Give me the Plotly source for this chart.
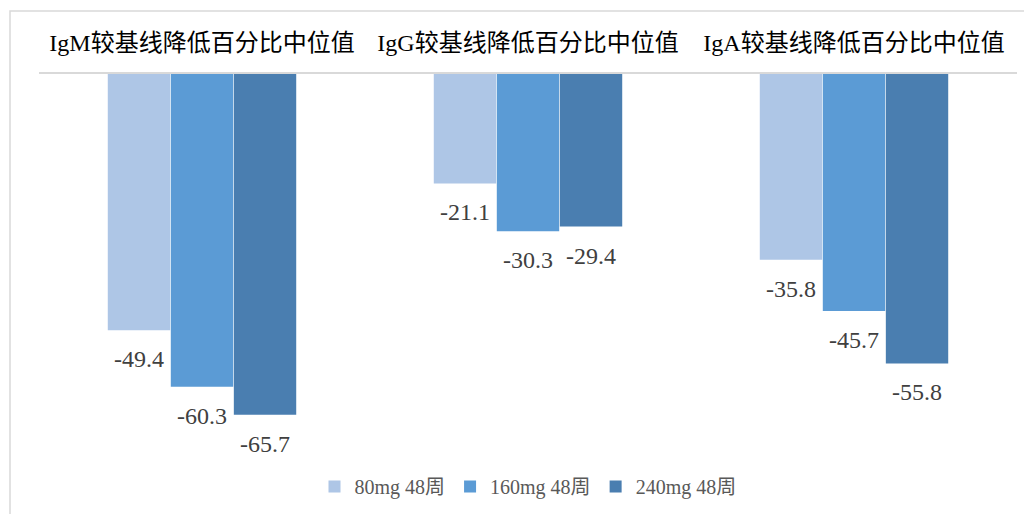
import plotly.graph_objects as go

categories = ["IgM较基线降低百分比中位值", "IgG较基线降低百分比中位值", "IgA较基线降低百分比中位值"]
series_names = ["80mg 48周", "160mg 48周", "240mg 48周"]
values_80 = [-49.4, -21.1, -35.8]
values_160 = [-60.3, -30.3, -45.7]
values_240 = [-65.7, -29.4, -55.8]
colors = ["#aec6e6", "#5b9bd5", "#4a7eb0"]

series_values = [values_80, values_160, values_240]

W, H = 1032, 514
# the page body adds an 8px offset, so margins are shifted accordingly
ML, MR, MT, MB = 31, 23, 66, 33
BARGAP = 0.42
YRANGE = [-80, 0]

FONT = "Times New Roman, Liberation Serif, Noto Sans CJK SC, serif"

fig = go.Figure()
for name, vals, col in zip(series_names, series_values, colors):
    fig.add_trace(go.Bar(
        x=categories, y=vals, name=name,
        marker=dict(color=col, line=dict(width=0)),
        hoverinfo="x+y+name",
    ))

# data labels below each bar end
plot_w = W - ML - MR
plot_h = H - MT - MB
n_series = len(series_values)
bar_w = plot_w / len(categories) * (1 - BARGAP) / n_series
annotations = []
for i, vals in enumerate(series_values):
    shift = (i - (n_series - 1) / 2) * bar_w
    for cat, v in zip(categories, vals):
        annotations.append(dict(
            x=cat, y=v, xref="x", yref="y", text=f"{v:.1f}",
            showarrow=False, xshift=shift, yshift=-29,
            xanchor="center", yanchor="middle",
            font=dict(family=FONT, size=24, color="#404040"),
        ))

fig.update_layout(
    width=W, height=H,
    margin=dict(l=ML, r=MR, t=MT, b=MB, pad=0, autoexpand=False),
    paper_bgcolor="white", plot_bgcolor="white",
    barmode="group", bargap=BARGAP, bargroupgap=0.01,
    font=dict(family=FONT, color="#000000"),
    xaxis=dict(
        side="top", showgrid=False, showline=True, linecolor="#d9d9d9", linewidth=1.5,
        ticks="", tickfont=dict(family=FONT, size=24, color="#000000"),
        ticklabelstandoff=12, fixedrange=True, automargin=False,
    ),
    yaxis=dict(
        range=YRANGE, showgrid=False, zeroline=False, showline=False,
        showticklabels=False, ticks="", fixedrange=True, automargin=False,
    ),
    legend=dict(
        orientation="h", x=0.5, xanchor="center", y=0.006, yanchor="middle",
        font=dict(family=FONT, size=20, color="#595959"),
        itemwidth=30, bgcolor="rgba(0,0,0,0)",
    ),
    annotations=annotations,
    shapes=[dict(
        type="rect", xref="paper", yref="paper",
        x0=(2 - ML) / plot_w, x1=1.2,
        y0=-0.3, y1=1 + (MT - 3) / plot_h,
        line=dict(color="#d9d9d9", width=1.5), fillcolor="rgba(0,0,0,0)", layer="below",
    )],
)

fig.write_html("out.html")
